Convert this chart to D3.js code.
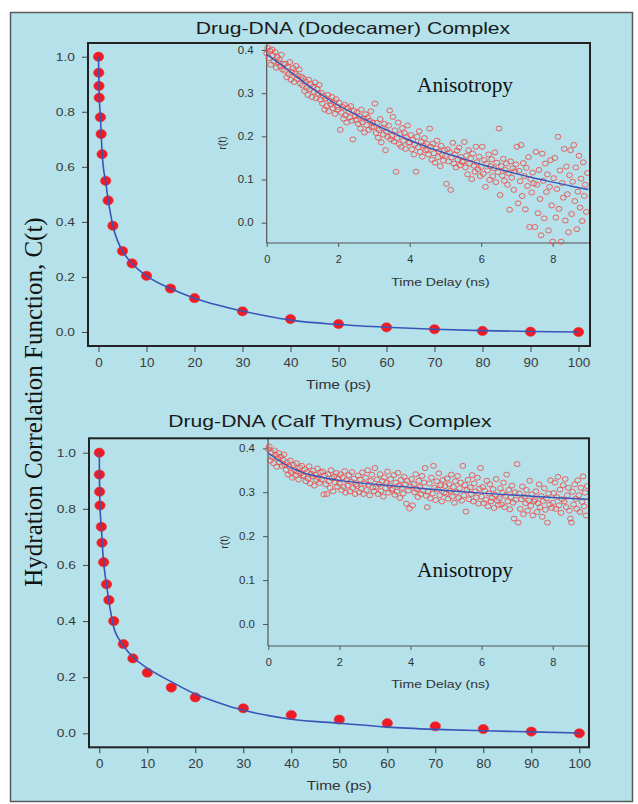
<!DOCTYPE html>
<html><head><meta charset="utf-8">
<script src="https://cdn.jsdelivr.net/npm/d3@7"></script>
<style>
html,body{margin:0;padding:0;background:#fff;}
svg{display:block;}
</style></head><body>
<svg id="chart" width="638" height="804"></svg>
<script>
// ---------- DATA ----------
const titles = ["Drug-DNA (Dodecamer) Complex", "Drug-DNA (Calf Thymus) Complex"];
const yAxisTitle = "Hydration Correlation Function, C(t)";
const mainXTicks = [0,10,20,30,40,50,60,70,80,90,100];
const mainYTicks = [0.0,0.2,0.4,0.6,0.8,1.0];
const insetXTicks = [0,2,4,6,8];
const insetYTicks = [0.0,0.1,0.2,0.3,0.4];

// Top panel: hydration correlation points
const topTime = [0,0.05,0.1,0.15,0.4,0.55,0.75,1.5,2,3,5,7,10,15,20,30,40,50,60,70,80,90,100];
const topC    = [1.0,0.942,0.894,0.851,0.780,0.719,0.646,0.549,0.478,0.386,0.294,0.249,0.204,0.158,0.123,0.075,0.047,0.029,0.017,0.010,0.004,0.001,0.0];
// Top panel: fitted curve
const topFitTime = [0,0.05,0.1,0.15,0.25,0.4,0.55,0.75,1,1.5,2,2.5,3,4,5,7,10,15,20,25,30,35,40,50,60,70,80,90,100];
const topFitC    = [1.0,0.95,0.90,0.86,0.82,0.78,0.72,0.65,0.60,0.545,0.48,0.43,0.385,0.33,0.294,0.249,0.204,0.158,0.123,0.097,0.076,0.058,0.043,0.027,0.017,0.010,0.005,0.002,0.0];

// Bottom panel
const botTime = [0,0.02,0.07,0.14,0.42,0.56,0.9,1.5,2,3,5,7,10,15,20,30,40,50,60,70,80,90,100];
const botC    = [1.0,0.922,0.861,0.812,0.736,0.679,0.610,0.531,0.475,0.400,0.318,0.267,0.216,0.163,0.128,0.089,0.065,0.049,0.036,0.025,0.015,0.006,0.0];
const botFitTime = [0,0.03,0.08,0.15,0.3,0.45,0.6,0.9,1.2,1.5,2,2.5,3,4,5,7,10,15,20,25,30,35,40,50,60,70,80,90,100];
const botFitC    = [1.0,0.92,0.86,0.81,0.76,0.73,0.68,0.61,0.565,0.53,0.47,0.42,0.378,0.338,0.312,0.272,0.232,0.184,0.140,0.108,0.082,0.064,0.050,0.036,0.022,0.014,0.009,0.005,0.001];

// Anisotropy insets: r(t) sampled on a uniform time channel
const TIME_STEP = 0.5/17; // ns per channel
const topInsetR = [
.392,.405,.381,.398,.366,.401,.388,.373,.395,.359,.384,.371,.378,.362,.389,.355,.368,
.352,.368,.337,.361,.344,.372,.331,.349,.358,.326,.345,.363,.333,.340,.355,.322,.338,
.318,.334,.305,.327,.312,.296,.331,.309,.321,.291,.315,.303,.325,.288,.310,.299,.319,
.285,.301,.276,.293,.262,.288,.270,.296,.258,.282,.274,.291,.265,.279,.252,.286,.268,
.262,.278,.215,.255,.268,.241,.273,.249,.232,.266,.257,.244,.270,.236,.193,.259,.247,
.238,.256,.229,.247,.218,.262,.233,.241,.209,.251,.226,.244,.215,.236,.258,.221,.232,
.222,.276,.208,.231,.197,.215,.240,.186,.219,.204,.229,.168,.211,.199,.225,.260,.193,
.201,.245,.188,.214,.118,.196,.232,.182,.205,.176,.219,.190,.208,.171,.198,.225,.185,
.186,.203,.170,.192,.158,.181,.118,.199,.175,.212,.164,.187,.153,.179,.196,.168,.183,
.169,.158,.218,.176,.146,.183,.161,.139,.172,.190,.152,.165,.131,.178,.157,.144,.168,
.155,.090,.170,.142,.163,.076,.151,.185,.137,.158,.128,.167,.146,.174,.133,.152,.141,
.142,.187,.128,.155,.112,.168,.137,.149,.101,.160,.132,.118,.176,.140,.124,.153,.108,
.129,.176,.113,.145,.083,.137,.121,.158,.099,.131,.147,.108,.126,.163,.094,.139,.117,
.218,.064,.131,.109,.148,.097,.122,.137,.088,.115,.030,.142,.104,.126,.076,.119,.135,
.176,.045,.120,.096,.180,.062,.138,.108,.031,.127,.085,.152,-.010,.101,.070,.116,.091,
-.010,.164,.088,.022,.122,.055,-.029,.160,.097,.010,.137,.071,.112,-.018,.083,.145,.040,
-.044,.103,.150,.012,.078,.199,.032,.121,-.044,.092,.058,.171,.005,.130,.066,-.022,.110,
.168,.020,.095,.180,.050,.128,-.015,.072,.155,.035,.102,.004,.140,.062,.088,.025,.115
];
const topInsetFitTime = [0,0.5,1,1.5,2,2.5,3,3.5,4,4.5,5,5.5,6,6.5,7,7.5,8,8.5,9];
const topInsetFitR    = [0.390,0.360,0.328,0.298,0.272,0.250,0.229,0.209,0.191,0.175,0.161,0.148,0.135,0.124,0.113,0.103,0.094,0.085,0.077];

const botInsetR = [
.398,.404,.372,.391,.380,.366,.395,.385,.358,.377,.389,.368,.381,.360,.374,.386,.362,
.351,.368,.340,.359,.372,.345,.333,.362,.350,.338,.366,.347,.329,.356,.343,.360,.337,
.338,.352,.325,.346,.331,.359,.320,.342,.336,.349,.315,.340,.328,.354,.333,.321,.345,
.329,.347,.295,.338,.318,.296,.341,.325,.310,.350,.332,.302,.336,.322,.344,.313,.330,
.320,.341,.305,.334,.312,.348,.299,.327,.315,.339,.302,.324,.346,.310,.331,.296,.318,
.314,.338,.300,.329,.308,.345,.296,.320,.333,.305,.350,.317,.293,.326,.340,.311,.302,
.355,.312,.329,.296,.318,.341,.303,.325,.290,.334,.309,.321,.347,.299,.316,.330,.305,
.308,.339,.294,.322,.301,.344,.315,.287,.328,.310,.297,.335,.318,.274,.326,.304,.263,
.313,.330,.270,.318,.300,.341,.307,.289,.326,.312,.296,.337,.304,.322,.355,.292,.266,
.301,.320,.286,.333,.297,.360,.310,.282,.325,.306,.343,.293,.316,.279,.328,.299,.314,
.297,.331,.285,.318,.303,.340,.290,.312,.276,.325,.300,.337,.287,.309,.322,.281,.360,
.293,.316,.256,.305,.328,.284,.311,.296,.339,.279,.320,.302,.288,.333,.274,.308,.355,
.290,.312,.275,.303,.283,.326,.268,.297,.318,.279,.287,.307,.264,.294,.330,.281,.271,
.286,.309,.272,.298,.322,.266,.292,.340,.279,.305,.261,.289,.315,.276,.240,.300,.283,
.364,.231,.297,.262,.284,.313,.250,.290,.275,.305,.258,.281,.326,.269,.295,.247,.279,
.283,.302,.255,.275,.318,.266,.291,.244,.280,.309,.260,.286,.231,.297,.272,.327,.264,
.276,.298,.322,.262,.289,.335,.270,.306,.253,.284,.316,.279,.330,.266,.293,.310,.258,
.240,.231,.301,.272,.318,.285,.262,.327,.293,.255,.310,.278,.336,.268,.299,.247,.314
];
const botInsetFitTime = [0,0.25,0.5,0.75,1,1.5,2,3,4,5,6,7,8,9];
const botInsetFitR    = [0.389,0.375,0.362,0.352,0.344,0.334,0.327,0.318,0.311,0.304,0.298,0.293,0.288,0.284];

// ---------- DRAWING ----------
const SANS = "'Liberation Sans', Arial, Helvetica, sans-serif";
const SERIF = "'Liberation Serif', 'Times New Roman', serif";
const BG = "#b4e1ea";
const RED = "#f01a22";
const BLUE = "#3a55b8";
const SX = 1.2; // horizontal stretch of the original figure's lettering

const svg = d3.select("#chart");

// stretched text helper
function label(parent, x, y, txt, size, family, anchor, sx, fill){
  return parent.append("text")
    .attr("transform",`translate(${x},${y}) scale(${sx},1)`)
    .attr("text-anchor",anchor)
    .style("font-family",family).style("font-size",size+"px").attr("fill",fill).text(txt);
}
function stretchAxisText(a, sx){
  a.selectAll("text").each(function(){
    const t = d3.select(this);
    const x = +t.attr("x") || 0;
    t.attr("x", x/sx).attr("transform",`scale(${sx},1)`);
  });
}

// background & frame
svg.append("rect").attr("x",0).attr("y",0).attr("width",638).attr("height",804).attr("fill","#ffffff");
svg.append("rect").attr("x",10.5).attr("y",12.5).attr("width",622).attr("height",789)
  .attr("fill",BG).attr("stroke","#5a5a5a").attr("stroke-width",1.5);

// global y-axis title
svg.append("text")
  .attr("transform","translate(42,402) rotate(-90)")
  .attr("text-anchor","middle")
  .style("font-family",SERIF).style("font-size","25px").attr("fill","#111")
  .text(yAxisTitle);

const panels = [
  {
    title: titles[0], titleX: 353, titleY: 33.5,
    box: {x0:88, y0:43, x1:590, y1:346},
    xr: [98.5, 578.5], yr: [332, 56.7],
    time: topTime, c: topC, fitT: topFitTime, fitC: topFitC,
    xlabY: 388.5,
    inset: {ax: 266.7, ay: 243, top: 43, right: 590, xr:[266.7,552.7], yr:[222.7,50],
            r: topInsetR, fitT: topInsetFitTime, fitR: topInsetFitR, labY: 285.5, textY: 91.5}
  },
  {
    title: titles[1], titleX: 330, titleY: 427,
    box: {x0:89, y0:438.3, x1:589, y1:747.3},
    xr: [99.3, 579.3], yr: [733.3, 452.7],
    time: botTime, c: botC, fitT: botFitTime, fitC: botFitC,
    xlabY: 790,
    inset: {ax: 268, ay: 646, top: 438.3, right: 589, xr:[268.3,552.7], yr:[624,448.3],
            r: botInsetR, fitT: botInsetFitTime, fitR: botInsetFitR, labY: 688, textY: 576.5}
  }
];

panels.forEach(p => {
  const g = svg.append("g");
  // title
  label(g, p.titleX, p.titleY, p.title, 16.5, SANS, "middle", 1.28, "#1a1a1a");

  const x = d3.scaleLinear().domain([0,100]).range(p.xr);
  const y = d3.scaleLinear().domain([0,1]).range(p.yr);

  // axes
  const ya = g.append("g").attr("transform",`translate(${p.box.x0},0)`)
    .call(d3.axisLeft(y).tickValues(mainYTicks).tickFormat(d3.format(".1f")).tickSize(6).tickPadding(7));
  const xa = g.append("g").attr("transform",`translate(0,${p.box.y1})`)
    .call(d3.axisBottom(x).tickValues(mainXTicks).tickSize(6).tickPadding(6));
  [ya,xa].forEach(a => {
    a.select(".domain").remove();
    a.selectAll("line").attr("stroke","#444").attr("stroke-width",1);
  });
  ya.selectAll("text").style("font-family",SANS).style("font-size","11.5px").attr("fill","#3a3a3a");
  xa.selectAll("text").style("font-family",SANS).style("font-size","12px").attr("fill","#3a3a3a");
  stretchAxisText(ya, SX); stretchAxisText(xa, 1.12);
  label(g, (x(0)+x(100))/2, p.xlabY, "Time (ps)", 13.5, SANS, "middle", 1.15, "#333");

  // main points
  const pts = p.time.map((t,i)=>({t, c:p.c[i]}));
  g.append("g").selectAll("ellipse").data(pts).join("ellipse")
    .attr("cx",d=>x(d.t)).attr("cy",d=>y(d.c)).attr("rx",5.2).attr("ry",4.6)
    .attr("fill",RED).attr("stroke","#e8323a").attr("stroke-width",0.6);
  // fit line
  const fit = p.fitT.map((t,i)=>({t, c:p.fitC[i]}));
  g.append("path").datum(fit)
    .attr("d", d3.line().x(d=>x(d.t)).y(d=>y(d.c)).curve(d3.curveMonotoneX))
    .attr("fill","none").attr("stroke",BLUE).attr("stroke-width",1.6);

  // inset
  const I = p.inset;
  const ix = d3.scaleLinear().domain([0,8]).range(I.xr);
  const iy = d3.scaleLinear().domain([0,0.4]).range(I.yr);
  const ig = g.append("g");
  const iya = ig.append("g").attr("transform",`translate(${I.ax},0)`)
    .call(d3.axisLeft(iy).tickValues(insetYTicks).tickFormat(d3.format(".1f")).tickSize(5).tickPadding(8));
  const ixa = ig.append("g").attr("transform",`translate(0,${I.ay})`)
    .call(d3.axisBottom(ix).tickValues(insetXTicks).tickSize(4).tickPadding(9));
  [iya,ixa].forEach(a => {
    a.select(".domain").remove();
    a.selectAll("line").attr("stroke","#555").attr("stroke-width",1);
    a.selectAll("text").style("font-family",SANS).style("font-size","10px").attr("fill","#333");
  });
  stretchAxisText(iya, 1.15); stretchAxisText(ixa, 1.1);
  ig.append("line").attr("x1",I.ax).attr("x2",I.ax).attr("y1",I.top).attr("y2",I.ay)
    .attr("stroke","#555").attr("stroke-width",1.2);
  ig.append("line").attr("x1",I.ax).attr("x2",I.right).attr("y1",I.ay).attr("y2",I.ay)
    .attr("stroke","#555").attr("stroke-width",1.2);
  ig.append("text").attr("transform",`translate(${I.ax-44},${(I.top+I.ay)/2}) rotate(-90)`)
    .attr("text-anchor","middle").attr("dy","0.35em")
    .style("font-family",SANS).style("font-size","10.5px").attr("fill","#333").text("r(t)");
  label(ig, 440.5, I.labY, "Time Delay (ns)", 11.5, SANS, "middle", 1.22, "#333");

  const ipts = I.r.map((r,i)=>({t:i*TIME_STEP, r}));
  ig.append("g").selectAll("ellipse").data(ipts).join("ellipse")
    .attr("cx",d=>ix(d.t)).attr("cy",d=>iy(d.r)).attr("rx",2.9).attr("ry",2.5)
    .attr("fill","none").attr("stroke","#f2473f").attr("stroke-width",0.9).attr("stroke-opacity",0.9);
  const ifit = I.fitT.map((t,i)=>({t, r:I.fitR[i]}));
  ig.append("path").datum(ifit)
    .attr("d", d3.line().x(d=>ix(d.t)).y(d=>iy(d.r)).curve(d3.curveMonotoneX))
    .attr("fill","none").attr("stroke",BLUE).attr("stroke-width",1.4);
  label(ig, 465, I.textY, "Anisotropy", 20.5, SERIF, "middle", 1.04, "#111");

  // main box (on top)
  g.append("rect").attr("x",p.box.x0).attr("y",p.box.y0)
    .attr("width",p.box.x1-p.box.x0).attr("height",p.box.y1-p.box.y0)
    .attr("fill","none").attr("stroke","#222").attr("stroke-width",2);
});
</script>
</body></html>
